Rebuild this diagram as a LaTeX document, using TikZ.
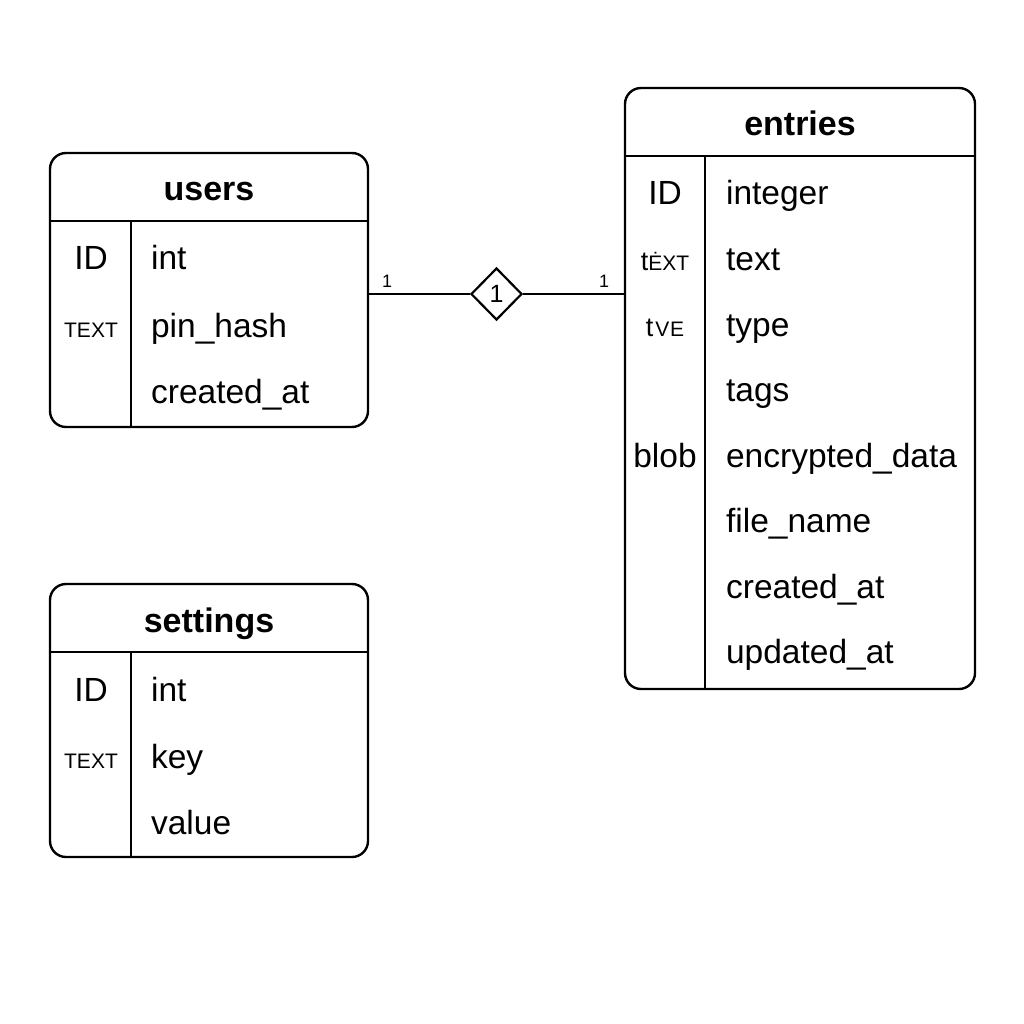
\documentclass[tikz,border=0pt]{standalone}
\usepackage{fontspec}
\setmainfont{Liberation Sans}
\usetikzlibrary{shapes}
\usetikzlibrary{calc}

\newcommand{\fieldfont}{\fontsize{33.5}{38}\selectfont}
\newcommand{\smallcap}{\fontsize{21}{24}\selectfont}
\newcommand{\smallt}{\fontsize{27}{30}\selectfont}

\begin{document}
\begin{tikzpicture}[x=1pt, y=-1pt, line width=2.2pt,
    table/.style={draw, rectangle, rounded corners=16pt, line width=2.4pt},
    title/.style={anchor=base, inner sep=0, font=\fontsize{34}{40}\selectfont\bfseries},
    field/.style={anchor=base west, inner sep=0, font=\fieldfont},
    typ/.style={anchor=base, inner sep=0, font=\fieldfont},
    card/.style={anchor=base, inner sep=0, font=\fontsize{18}{20}\selectfont}]
  \useasboundingbox[fill=white] (0,0) rectangle (1024,1024);

  % users
  \node[table, minimum width=318, minimum height=274] (users) at (209,290) {};
  \draw[line width=2.4pt] ($(users.north west)+(0,69)$) -- ($(users.north east)+(0,69)$);
  \draw[line width=2.4pt] ($(users.north west)+(82,69)$) -- ($(users.south west)+(82,0)$);
  \node[title] (users-t) at (209,201) {users};
  \node[typ] (users-id-t) at (91,269) {ID};
  \node[field] (users-id) at (150,269) {int};
  \node[typ, font=\smallcap] (users-pin-t) at (91,337) {TEXT};
  \node[field] (users-pin) at (150,337) {pin\_hash};
  \node[field] (users-created) at (150,403) {created\_at};

  % settings
  \node[table, minimum width=318, minimum height=273] (settings) at (209,720.5) {};
  \draw[line width=2.4pt] ($(settings.north west)+(0,69)$) -- ($(settings.north east)+(0,69)$);
  \draw[line width=2.4pt] ($(settings.north west)+(82,69)$) -- ($(settings.south west)+(82,0)$);
  \node[title] (settings-t) at (209,632) {settings};
  \node[typ] (settings-id-t) at (91,701) {ID};
  \node[field] (settings-id) at (150,701) {int};
  \node[typ, font=\smallcap] (settings-key-t) at (91,768) {TEXT};
  \node[field] (settings-key) at (150,768) {key};
  \node[field] (settings-value) at (150,834) {value};

  % entries
  \node[table, minimum width=350, minimum height=601] (entries) at (800,388.5) {};
  \draw[line width=2.4pt] ($(entries.north west)+(0,69)$) -- ($(entries.north east)+(0,69)$);
  \draw[line width=2.4pt] ($(entries.north west)+(81,69)$) -- ($(entries.south west)+(81,0)$);
  \node[title] (entries-t) at (800,136) {entries};
  \node[typ] (entries-id-t) at (665,205) {ID};
  \node[field] (entries-id) at (725,205) {integer};
  \node[typ] (entries-text-t) at (665,270.5) {{\smallt t}{\smallcap ĖXT}};
  \node[field] (entries-text) at (725,270.5) {text};
  \node[typ] (entries-type-t) at (665,336) {{\smallt t}{\smallcap\kern2pt V\kern1pt E}};
  \node[field] (entries-type) at (725,336) {type};
  \node[field] (entries-tags) at (725,401.5) {tags};
  \node[typ] (entries-data-t) at (665,467) {blob};
  \node[field] (entries-data) at (725,467) {encrypted\_data};
  \node[field] (entries-file) at (725,532.5) {file\_name};
  \node[field] (entries-created) at (725,598) {created\_at};
  \node[field] (entries-updated) at (725,663.5) {updated\_at};

  % relation
  \node[draw, diamond, aspect=1, inner sep=0, minimum width=51, minimum height=52,
    font=\fontsize{25}{28}\selectfont] (rel) at (496.5,294) {1};
  \draw (rel.west) -- (rel.west -| users.east);
  \draw (rel.east) -- (rel.east -| entries.west);
  \node[card] (card-users) at (387,287) {1};
  \node[card] (card-entries) at (604,287) {1};
\end{tikzpicture}
\end{document}
